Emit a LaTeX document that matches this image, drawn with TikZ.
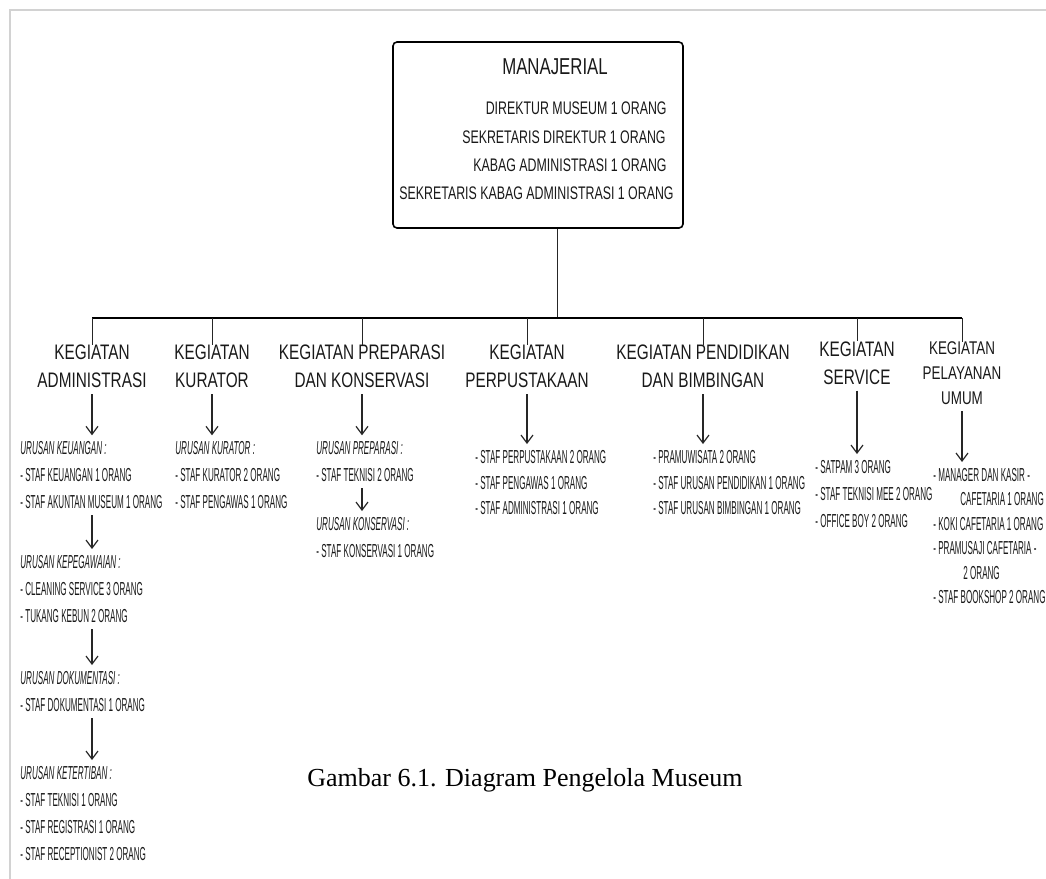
\documentclass[tikz,border=0pt]{standalone}
\usepackage{fontspec}
\newfontfamily\headfont[FakeStretch=0.73]{Liberation Sans}
\newfontfamily\boxfont[FakeStretch=0.68]{Liberation Sans}
\newfontfamily\itemfont[FakeStretch=0.43]{Liberation Sans}
\newfontfamily\capfont{Liberation Serif}
\usetikzlibrary{arrows.meta, positioning}

\begin{document}
\begin{tikzpicture}[
    x=0.5pt, y=-0.5pt,
    >={Straight Barb[length=4pt, width=6pt]},
    frame/.style={draw=gray!35, line width=0.8pt},
    mbox/.style={draw, line width=0.8pt, rounded corners=2pt, minimum width=145pt, minimum height=93pt},
    mtitle/.style={font=\headfont\fontsize{11.5}{14}\selectfont, inner sep=0pt, text=black!90},
    mline/.style={font=\boxfont\fontsize{9.1}{14.2}\selectfont, anchor=east, inner sep=0pt, text=black!90},
    head/.style={font=\headfont\fontsize{10.5}{14}\selectfont, align=center, anchor=north, inner sep=0pt, text=black!90},
    item/.style={font=\itemfont\fontsize{9.4}{13.5}\selectfont, align=left, anchor=north west, inner sep=0pt, text=black!90},
    link/.style={line width=0.5pt, black!85},
    bus/.style={line width=0.9pt, black},
    arr/.style={->, line width=0.6pt, black!85, shorten <=3pt, shorten >=3pt},
    caption/.style={font=\capfont\fontsize{13}{15}\selectfont, inner sep=0pt}
]
\useasboundingbox (0,0) rectangle (1046,879);

% Frame of the page
\draw[frame] (10,879) -- (10,10) -- (1046,10);

% Top box
\node[mbox] (mgr) at (538,135) {};
\node[mtitle] (mgrtitle) at (555,67) {MANAJERIAL};
\node[mline] (mgrdir) at (667,108) {DIREKTUR MUSEUM 1 ORANG};
\node[mline] (mgrsek) at (666,137) {SEKRETARIS DIREKTUR 1 ORANG};
\node[mline] (mgrkab) at (667,165) {KABAG ADMINISTRASI 1 ORANG};
\node[mline] (mgrsks) at (674,193) {SEKRETARIS KABAG ADMINISTRASI 1 ORANG};

% Branch headings
\node[head] (adm) at (92,344.5) {KEGIATAN\\ADMINISTRASI};
\node[head] (kur) at (212,344.5) {KEGIATAN\\KURATOR};
\node[head] (pre) at (362,344.5) {KEGIATAN PREPARASI\\DAN KONSERVASI};
\node[head] (per) at (527,344.5) {KEGIATAN\\PERPUSTAKAAN};
\node[head] (pen) at (703,344.5) {KEGIATAN PENDIDIKAN\\DAN BIMBINGAN};
\node[head] (ser) at (857,341) {KEGIATAN\\SERVICE};
\node[head, font=\headfont\fontsize{9.2}{12.5}\selectfont] (pel) at (962,341.5) {KEGIATAN\\PELAYANAN\\UMUM};

% Tree lines
\coordinate (bar) at (557,318);
\draw[link] (bar |- mgr.south) -- (bar);
\draw[bus] (adm.north |- bar) -- (pel.north |- bar);
\foreach \n in {adm,kur,pre,per,pen,ser,pel}
    \draw[link] (\n.north |- bar) -- (\n.north);

% Administrasi
\node[item] (admkeu) at (20,441.25) {\textit{URUSAN KEUANGAN :}\\
    - STAF KEUANGAN 1 ORANG\\
    - STAF AKUNTAN MUSEUM 1 ORANG};
\node[item] (admpeg) at (20,555) {\textit{URUSAN KEPEGAWAIAN :}\\
    - CLEANING SERVICE 3 ORANG\\
    - TUKANG KEBUN 2 ORANG};
\node[item] (admdok) at (20,671) {\textit{URUSAN DOKUMENTASI :}\\
    - STAF DOKUMENTASI 1 ORANG};
\node[item] (admtib) at (20,766) {\textit{URUSAN KETERTIBAN :}\\
    - STAF TEKNISI 1 ORANG\\
    - STAF REGISTRASI 1 ORANG\\
    - STAF RECEPTIONIST 2 ORANG};
\draw[arr] (adm.south) -- (adm.south |- admkeu.north);
\draw[arr] (adm.south |- admkeu.south) -- (adm.south |- admpeg.north);
\draw[arr] (adm.south |- admpeg.south) -- (adm.south |- admdok.north);
\draw[arr] (adm.south |- admdok.south) -- (adm.south |- admtib.north);

% Kurator
\node[item] (kurgrp) at (175,441.25) {\textit{URUSAN KURATOR :}\\
    - STAF KURATOR 2 ORANG\\
    - STAF PENGAWAS 1 ORANG};
\draw[arr] (kur.south) -- (kur.south |- kurgrp.north);

% Preparasi dan konservasi
\node[item] (preprep) at (316,441.25) {\textit{URUSAN PREPARASI :}\\
    - STAF TEKNISI 2 ORANG};
\node[item] (prekon) at (316,517) {\textit{URUSAN KONSERVASI :}\\
    - STAF KONSERVASI 1 ORANG};
\draw[arr] (pre.south) -- (pre.south |- preprep.north);
\draw[arr] (pre.south |- preprep.south) -- (pre.south |- prekon.north);

% Perpustakaan
\node[item, font=\itemfont\fontsize{9.4}{12.8}\selectfont] (perstaf) at (475,450) {- STAF PERPUSTAKAAN 2 ORANG\\
    - STAF PENGAWAS 1 ORANG\\
    - STAF ADMINISTRASI 1 ORANG};
\draw[arr] (per.south) -- (per.south |- perstaf.north);

% Pendidikan dan bimbingan
\node[item, font=\itemfont\fontsize{9.4}{12.8}\selectfont] (penstaf) at (653,450) {- PRAMUWISATA 2 ORANG\\
    - STAF URUSAN PENDIDIKAN 1 ORANG\\
    - STAF URUSAN BIMBINGAN 1 ORANG};
\draw[arr] (pen.south) -- (pen.south |- penstaf.north);

% Service
\node[item] (serstaf) at (815,460) {- SATPAM 3 ORANG\\
    - STAF TEKNISI MEE 2 ORANG\\
    - OFFICE BOY 2 ORANG};
\draw[arr] (ser.south) -- (ser.south |- serstaf.north);

% Pelayanan umum
\node[item, font=\itemfont\fontsize{9.4}{12.2}\selectfont] (pelstaf) at (933,468) {- MANAGER DAN KASIR -\\
    \hspace*{13.5pt}CAFETARIA 1 ORANG\\
    - KOKI CAFETARIA 1 ORANG\\
    - PRAMUSAJI CAFETARIA -\\
    \hspace*{15pt}2 ORANG\\
    - STAF BOOKSHOP 2 ORANG};
\draw[arr] (pel.south) -- (pel.south |- pelstaf.north);

% Caption
\node[caption] (cap) at (525,780) {Gambar 6.1. Diagram Pengelola Museum};

\end{tikzpicture}
\end{document}
